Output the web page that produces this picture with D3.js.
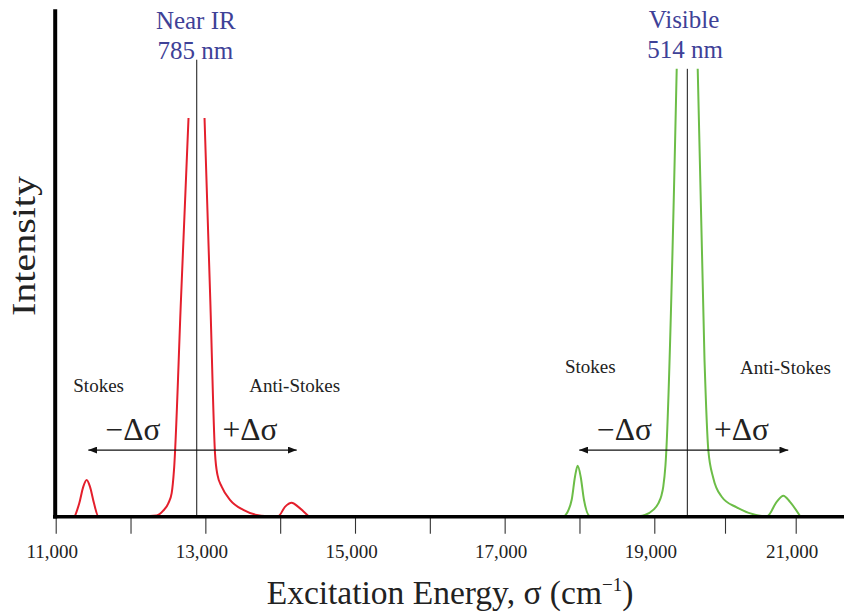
<!DOCTYPE html>
<html>
<head>
<meta charset="utf-8">
<script src="https://cdn.jsdelivr.net/npm/d3@7"></script>
<style>
  body { margin: 0; background: #fff; }
  svg { display: block; font-family: "Liberation Serif", "Times New Roman", serif; }
</style>
</head>
<body>
<div id="chart"></div>
<script>
// Raman shift seen from two excitation lines: near IR (785 nm) and visible (514 nm)

// x axis ticks, cm^-1 (only the odd thousands get a label)
var tickValues = [11000, 12000, 13000, 14000, 15000, 16000, 17000, 18000, 19000, 20000, 21000];
var tickLabels = ["11,000", "", "13,000", "", "15,000", "", "17,000", "", "19,000", "", "21,000"];

// red trace (785 nm). null = laser line cut off at the top
var nirWave = [11258, 11315, 11369, 11414, 11458, 11512, 11569,
  12260, 12350, 12434, 12505, 12550, 12581, 12674, 12775, 12885,
  12989, 13066, 13129, 13162, 13218, 13329, 13507, 13686, 13797,
  13975, 14064, 14154, 14242, 14305, 14376];
var nirIntensity = [0, 2.5, 5.8, 7.1, 5.8, 2.5, 0,
  0, 0.1, 1.0, 2.5, 4.5, 9.1, 42.6, 78.5, null,
  78.5, 42.6, 12.4, 8.1, 5.8, 3.2, 1.2, 0.2, 0,
  0, 1.8, 2.6, 1.8, 1.0, 0];

// green trace (514 nm)
var visWave = [17806, 17896, 17940, 17976, 18016, 18060, 18140,
  18809, 18875, 18986, 19057, 19102, 19127, 19158, 19317, 19467,
  19614, 19710, 19764, 19834, 19953, 20165, 20438, 20523,
  20598, 20731, 20825, 20919, 21061];
var visIntensity = [0, 3.2, 7.75, 9.9, 7.75, 3.2, 0,
  0, 0.2, 1.2, 2.5, 4.1, 5.8, 10.0, 88.2, null,
  88.2, 30.8, 13.0, 7.5, 3.8, 1.7, 0.2, 0,
  0, 2.8, 4.0, 2.8, 0];

// laser lines
var laserNames = ["Near IR", "Visible"];
var laserNm = ["785 nm", "514 nm"];
var laserWave = [12885, 19467];
var laserTop = [90.0, 88.2];

// +/- shift arrows
var arrowFrom = [11436, 17997];
var arrowTo = [14221, 20895];
var arrowLevel = [13.0, 13.0];

var svgWidth = 844;
var svgHeight = 613;

var svg = d3.select("#chart")
  .append("svg")
  .attr("width", svgWidth)
  .attr("height", svgHeight);

// axis is not quite even in the original, so two pieces
var xScale = d3.scaleLinear()
  .domain([11000, 19000, 21000])
  .range([55.7, 654.3, 795.7]);

var yScale = d3.scaleLinear()
  .domain([0, 100])
  .range([516, 9]);

var colors = ["#e41f2c", "#6cbd47"];
var blue = "#3e4197";

var traces = [
  nirWave.map(function(w, i) { return { x: w, y: nirIntensity[i] }; }),
  visWave.map(function(w, i) { return { x: w, y: visIntensity[i] }; })
];

var line = d3.line()
  .defined(function(d) { return d.y !== null; })
  .x(function(d) { return xScale(d.x); })
  .y(function(d) { return yScale(d.y); })
  .curve(d3.curveMonotoneX);

svg.selectAll(".trace")
  .data(traces)
  .enter()
  .append("path")
  .attr("class", "trace")
  .attr("d", line)
  .attr("fill", "none")
  .attr("stroke", function(d, i) { return colors[i]; })
  .attr("stroke-width", 2);

// laser lines
svg.selectAll(".laser")
  .data(laserWave)
  .enter()
  .append("line")
  .attr("class", "laser")
  .attr("x1", function(d) { return xScale(d); })
  .attr("x2", function(d) { return xScale(d); })
  .attr("y1", function(d, i) { return yScale(laserTop[i]); })
  .attr("y2", yScale(0))
  .attr("stroke", "#111")
  .attr("stroke-width", 1);

// arrow heads
svg.append("defs")
  .append("marker")
  .attr("id", "head")
  .attr("viewBox", "0 0 10 8")
  .attr("refX", 10)
  .attr("refY", 4)
  .attr("markerWidth", 9)
  .attr("markerHeight", 7)
  .attr("markerUnits", "userSpaceOnUse")
  .attr("orient", "auto-start-reverse")
  .append("path")
  .attr("d", "M0,0L10,4L0,8Z")
  .attr("fill", "#111");

svg.selectAll(".shift")
  .data(arrowFrom)
  .enter()
  .append("line")
  .attr("class", "shift")
  .attr("x1", function(d) { return xScale(d); })
  .attr("x2", function(d, i) { return xScale(arrowTo[i]); })
  .attr("y1", function(d, i) { return yScale(arrowLevel[i]); })
  .attr("y2", function(d, i) { return yScale(arrowLevel[i]); })
  .attr("stroke", "#111")
  .attr("stroke-width", 1.2)
  .attr("marker-start", "url(#head)")
  .attr("marker-end", "url(#head)");

// x axis: ticks only, thick line drawn by hand below
var bottomAxis = d3.axisBottom(xScale)
  .tickValues(tickValues)
  .tickSize(17)
  .tickFormat(function(d, i) { return tickLabels[i]; });

var xAxis = svg.append("g")
  .attr("transform", "translate(0, 516.7)")
  .call(bottomAxis);

xAxis.select(".domain").remove();
xAxis.selectAll(".tick line").attr("stroke", "#333").attr("stroke-width", 1.1);
xAxis.selectAll(".tick text")
  .attr("y", 41.5)
  .attr("dy", null)
  .attr("x", -4)
  .style("font-size", "19px")
  .style("font-family", "Liberation Serif, Times New Roman, serif")
  .attr("fill", "#222");

svg.append("line")
  .attr("x1", 53).attr("x2", 844)
  .attr("y1", 516.7).attr("y2", 516.7)
  .attr("stroke", "#000").attr("stroke-width", 3.6);

svg.append("line")
  .attr("x1", 55.2).attr("x2", 55.2)
  .attr("y1", 9.3).attr("y2", 518.5)
  .attr("stroke", "#000").attr("stroke-width", 4);

// axis titles
var xTitle = svg.append("text")
  .attr("x", 450)
  .attr("y", 604)
  .attr("text-anchor", "middle")
  .style("font-size", "33.5px")
  .attr("fill", "#222")
  .text("Excitation Energy, \u03c3 (cm");
xTitle.append("tspan").attr("dy", -13).style("font-size", "19px").text("\u22121");
xTitle.append("tspan").attr("dy", 13).text(")");

svg.append("text")
  .attr("transform", "translate(35, 246) rotate(-90) scale(1, 0.82)")
  .attr("text-anchor", "middle")
  .style("font-size", "40px")
  .attr("fill", "#222")
  .text("Intensity");

// labels (pixel layout)
var labelPos = {
  laserName: [[195.8, 28.5], [684, 27.5]],
  laserNm: [[195.3, 58.5], [685, 58.3]],
  stokes: [[73.3, 391.7], [565, 373.3]],
  antiStokes: [[249.3, 391.7], [740, 374]],
  minus: [[105.5, 440], [597, 440]],
  plus: [[222.5, 440], [714, 440]]
};

[0, 1].forEach(function(i) {
  svg.append("text")
    .attr("x", labelPos.laserName[i][0]).attr("y", labelPos.laserName[i][1])
    .attr("text-anchor", "middle")
    .style("font-size", "25px").attr("fill", blue)
    .text(laserNames[i]);
  svg.append("text")
    .attr("x", labelPos.laserNm[i][0]).attr("y", labelPos.laserNm[i][1])
    .attr("text-anchor", "middle")
    .style("font-size", "25px").attr("fill", blue)
    .text(laserNm[i]);
  svg.append("text")
    .attr("x", labelPos.stokes[i][0]).attr("y", labelPos.stokes[i][1])
    .style("font-size", "19px").attr("fill", "#222")
    .text("Stokes");
  svg.append("text")
    .attr("x", labelPos.antiStokes[i][0]).attr("y", labelPos.antiStokes[i][1])
    .style("font-size", "19px").attr("fill", "#222")
    .text("Anti-Stokes");
  svg.append("text")
    .attr("x", labelPos.minus[i][0]).attr("y", labelPos.minus[i][1])
    .style("font-size", "31.5px").attr("fill", "#222")
    .text("\u2212\u0394\u03c3");
  svg.append("text")
    .attr("x", labelPos.plus[i][0]).attr("y", labelPos.plus[i][1])
    .style("font-size", "31.5px").attr("fill", "#222")
    .text("+\u0394\u03c3");
});
</script>
</body>
</html>
